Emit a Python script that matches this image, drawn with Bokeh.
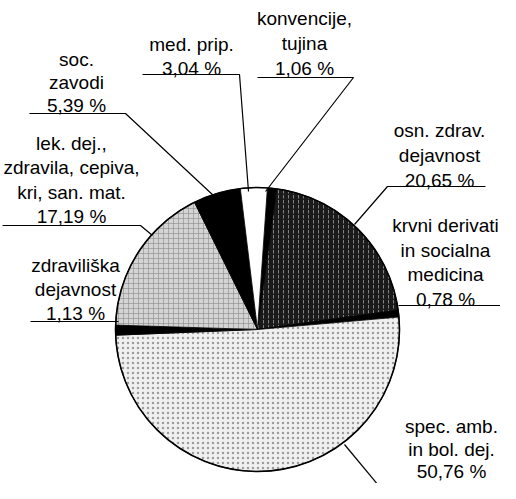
import math
from bokeh.plotting import figure
from bokeh.models import Range1d, ColumnDataSource
from bokeh.embed import file_html
from bokeh.resources import INLINE
from bokeh.core.properties import value

# ---- data ----
categories = ["konvencije, tujina", "osn. zdrav. dejavnost",
              "krvni derivati in socialna medicina", "spec. amb. in bol. dej.",
              "zdraviliška dejavnost", "lek. dej., zdravila, cepiva, kri, san. mat.",
              "soc. zavodi", "med. prip."]
shares = [1.06, 20.65, 0.78, 50.76, 1.13, 17.19, 5.39, 3.04]
label_lines = [["konvencije,", "tujina"],
               ["osn. zdrav.", "dejavnost"],
               ["krvni derivati", "in socialna", "medicina"],
               ["spec. amb.", "in bol. dej."],
               ["zdraviliška", "dejavnost"],
               ["lek. dej.,", "zdravila, cepiva,", "kri, san. mat."],
               ["soc.", "zavodi"],
               ["med. prip."]]

# ---- styles / layout (image pixel coords, y down) ----
fills = ["#000000", "#1a1a1a", "#000000", "#f0f0f0", "#000000", "#d4d4d4", "#000000", "#ffffff"]
hatches = [None, ":", None, ".", None, "+", None, None]
hatch_colors = [None, "#ffffff", None, "#808080", None, "#8a8a8a", None, None]
hatch_alphas = [None, 0.45, None, 0.75, None, 0.6, None, None]
label_pos = [(312, 26, 25), (447, 138, 25), (453, 233, 24.7), (459, 434, 22.5),
             (83, 273, 24), (79, 151, 24.3), (84, 67, 23), (199, 52, 23.5)]
leaders = [[(265, 85), (361, 85), (273, 199)],
           [(493, 194), (395, 194), (362, 232)],
           [(516, 313), (406, 313)],
           [(352, 452), (396, 505)],
           [(38, 329), (126, 329)],
           [(10, 233), (148, 233), (160, 243)],
           [(37, 121), (133, 121), (222, 204)],
           [(150, 82), (247, 82), (256, 199)]]
CX, CY, R = 265, 337, 142
START_CW = 4.0  # degrees clockwise from 12 o'clock


def Y(yimg):
    return 499 - yimg


p = figure(width=500, height=483, x_range=Range1d(8, 508), y_range=Range1d(8, 491),
           output_backend="svg", toolbar_location=None, min_border=0)
p.axis.visible = False
p.grid.visible = False
p.outline_line_color = None
p.background_fill_color = "white"

total = sum(shares)
cum = START_CW
for i, v in enumerate(shares):
    a = cum
    b = cum + v / total * 360.0
    cum = b
    kw = dict(x=CX, y=Y(CY), radius=R,
              start_angle=math.pi / 2 - math.radians(b),
              end_angle=math.pi / 2 - math.radians(a),
              fill_color=fills[i], line_color="black", line_width=0.8)
    if hatches[i]:
        kw.update(hatch_pattern=hatches[i], hatch_color=hatch_colors[i],
                  hatch_scale=5, hatch_weight=1, hatch_alpha=hatch_alphas[i])
    p.wedge(**kw)

# outer outline
p.circle(x=CX, y=Y(CY), radius=R, fill_color=None, line_color="black", line_width=1.6)

# leader lines
for pts in leaders:
    p.line(x=[q[0] for q in pts], y=[Y(q[1]) for q in pts], line_color="black", line_width=1.2)

# labels
tx, ty, tt = [], [], []
for i, lines in enumerate(label_lines):
    cx, b0, sp = label_pos[i]
    allines = lines + [f"{shares[i]:.2f} %".replace(".", ",")]
    for k, s in enumerate(allines):
        tx.append(cx)
        ty.append(Y(b0 + k * sp))
        tt.append(s)
src = ColumnDataSource(dict(x=tx, y=ty, text=tt))
p.text(x="x", y="y", text="text", source=src, text_align="center", text_baseline="alphabetic",
       text_font=value("Liberation Sans"), text_font_size="19px", text_color="black")

open("out.html", "w").write(file_html(p, INLINE))
